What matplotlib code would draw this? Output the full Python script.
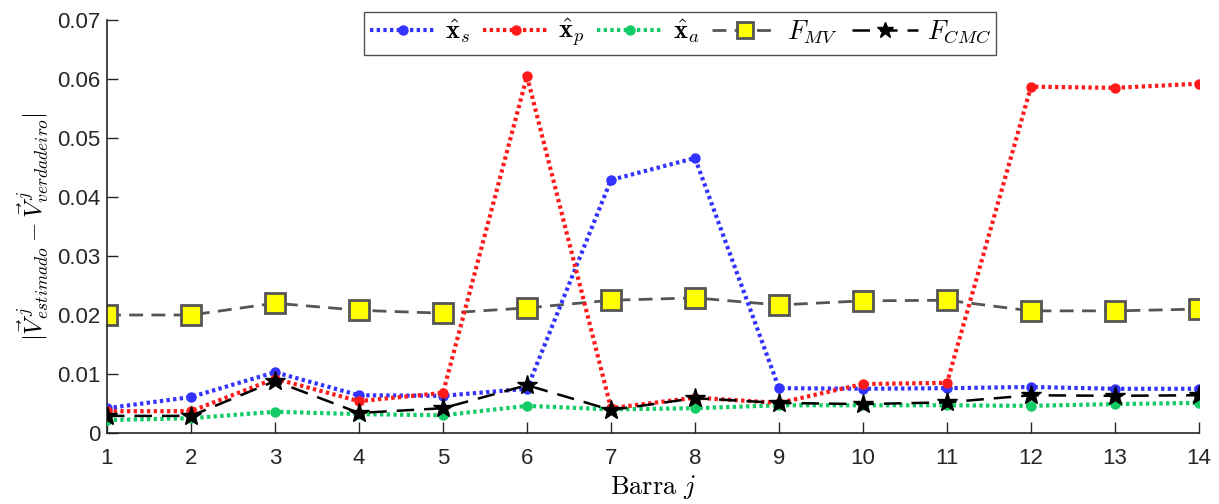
import numpy as np
import matplotlib.pyplot as plt
from matplotlib.lines import Line2D

plt.rcParams['font.family'] = ['Liberation Sans', 'DejaVu Sans']
plt.rcParams['mathtext.fontset'] = 'cm'

barras = np.arange(1, 15)

x_s = [0.0042, 0.0061, 0.0103, 0.0064, 0.0063, 0.0075, 0.0429,
       0.0466, 0.0076, 0.0075, 0.0076, 0.0078, 0.0075, 0.0075]
x_p = [0.0037, 0.0037, 0.0092, 0.0054, 0.0068, 0.0605, 0.0042,
       0.0060, 0.0051, 0.0083, 0.0085, 0.0587, 0.0585, 0.0592]
x_a = [0.0022, 0.0025, 0.0036, 0.0032, 0.0030, 0.0046, 0.0040,
       0.0042, 0.0047, 0.0047, 0.0047, 0.0046, 0.0049, 0.0051]
f_mv = [0.0200, 0.0200, 0.0220, 0.0208, 0.0203, 0.0212, 0.0225,
        0.0229, 0.0217, 0.0224, 0.0225, 0.0207, 0.0207, 0.0210]
f_cmc = [0.0029, 0.0029, 0.0088, 0.0034, 0.0042, 0.0081, 0.0039,
         0.0059, 0.0051, 0.0049, 0.0052, 0.0064, 0.0063, 0.0064]

fig = plt.figure(figsize=(12.19, 5.04), dpi=100)
ax = fig.add_axes([107/1219, 1 - 433/504, (1199 - 107)/1219, (433 - 20)/504])

pontilhado = dict(linestyle=(0, (0.8, 0.8)), linewidth=3, dash_capstyle='butt',
                  marker='o', markersize=6.5)
ax.plot(barras, f_mv, color='#555555', linestyle=(0, (5, 3)), linewidth=2,
        marker='s', markersize=14, markerfacecolor='#ffff00',
        markeredgecolor='#555555', markeredgewidth=2, zorder=2)
ax.plot(barras, x_s, color='#3333ff', **pontilhado, zorder=3)
ax.plot(barras, x_p, color='#ff1a1a', **pontilhado, zorder=4)
ax.plot(barras, x_a, color='#14cc66', **pontilhado, zorder=3)
ax.plot(barras, f_cmc, color='black', linestyle=(0, (7, 4)), linewidth=1.8,
        marker='*', markersize=15, zorder=5)

ax.set_xlim(1, 14)
ax.set_ylim(0, 0.07)
ax.set_xticks(barras)
ax.set_yticks(np.arange(0, 0.071, 0.01))
ax.set_yticklabels(['0', '0.01', '0.02', '0.03', '0.04', '0.05', '0.06', '0.07'])
ax.tick_params(direction='in', length=8, labelsize=16, colors='#262626',
               width=1)
ax.tick_params(axis='x', pad=11)
ax.tick_params(axis='y', pad=5)
for lado in ['top', 'right']:
    ax.spines[lado].set_visible(False)
for lado in ['left', 'bottom']:
    ax.spines[lado].set_color('#262626')
    ax.spines[lado].set_linewidth(1.2)

ax.set_xlabel(r'$\mathrm{Barra}\ j$', fontsize=19, labelpad=3)
ax.set_ylabel(r'$|\vec{V}^{\,j}_{estimado} - \vec{V}^{\,j}_{verdadeiro}|$',
              fontsize=18, labelpad=4)

# entradas da legenda com marcadores menores
handles = [
    Line2D([], [], color='#3333ff', **pontilhado),
    Line2D([], [], color='#ff1a1a', **pontilhado),
    Line2D([], [], color='#14cc66', **pontilhado),
    Line2D([], [], color='#555555', linestyle=(0, (5, 3)), linewidth=2,
           marker='s', markersize=11, markerfacecolor='#ffff00',
           markeredgecolor='#555555', markeredgewidth=2),
    Line2D([], [], color='black', linestyle=(0, (7, 4)), linewidth=1.8,
           marker='*', markersize=12),
]
labels = [r'$\hat{\mathbf{x}}_s$', r'$\hat{\mathbf{x}}_p$', r'$\hat{\mathbf{x}}_a$',
          r'$F_{MV}$', r'$F_{CMC}$']
leg = ax.legend(handles, labels, loc='upper center', bbox_to_anchor=(0.525, 1.02),
                ncol=5, fontsize=19, frameon=True, fancybox=False,
                handlelength=2.5, handletextpad=0.35, columnspacing=0.5,
                borderpad=0.2, borderaxespad=0)
leg.get_frame().set_edgecolor('#262626')
leg.get_frame().set_linewidth(1)

fig.savefig('out.png', dpi=100)
